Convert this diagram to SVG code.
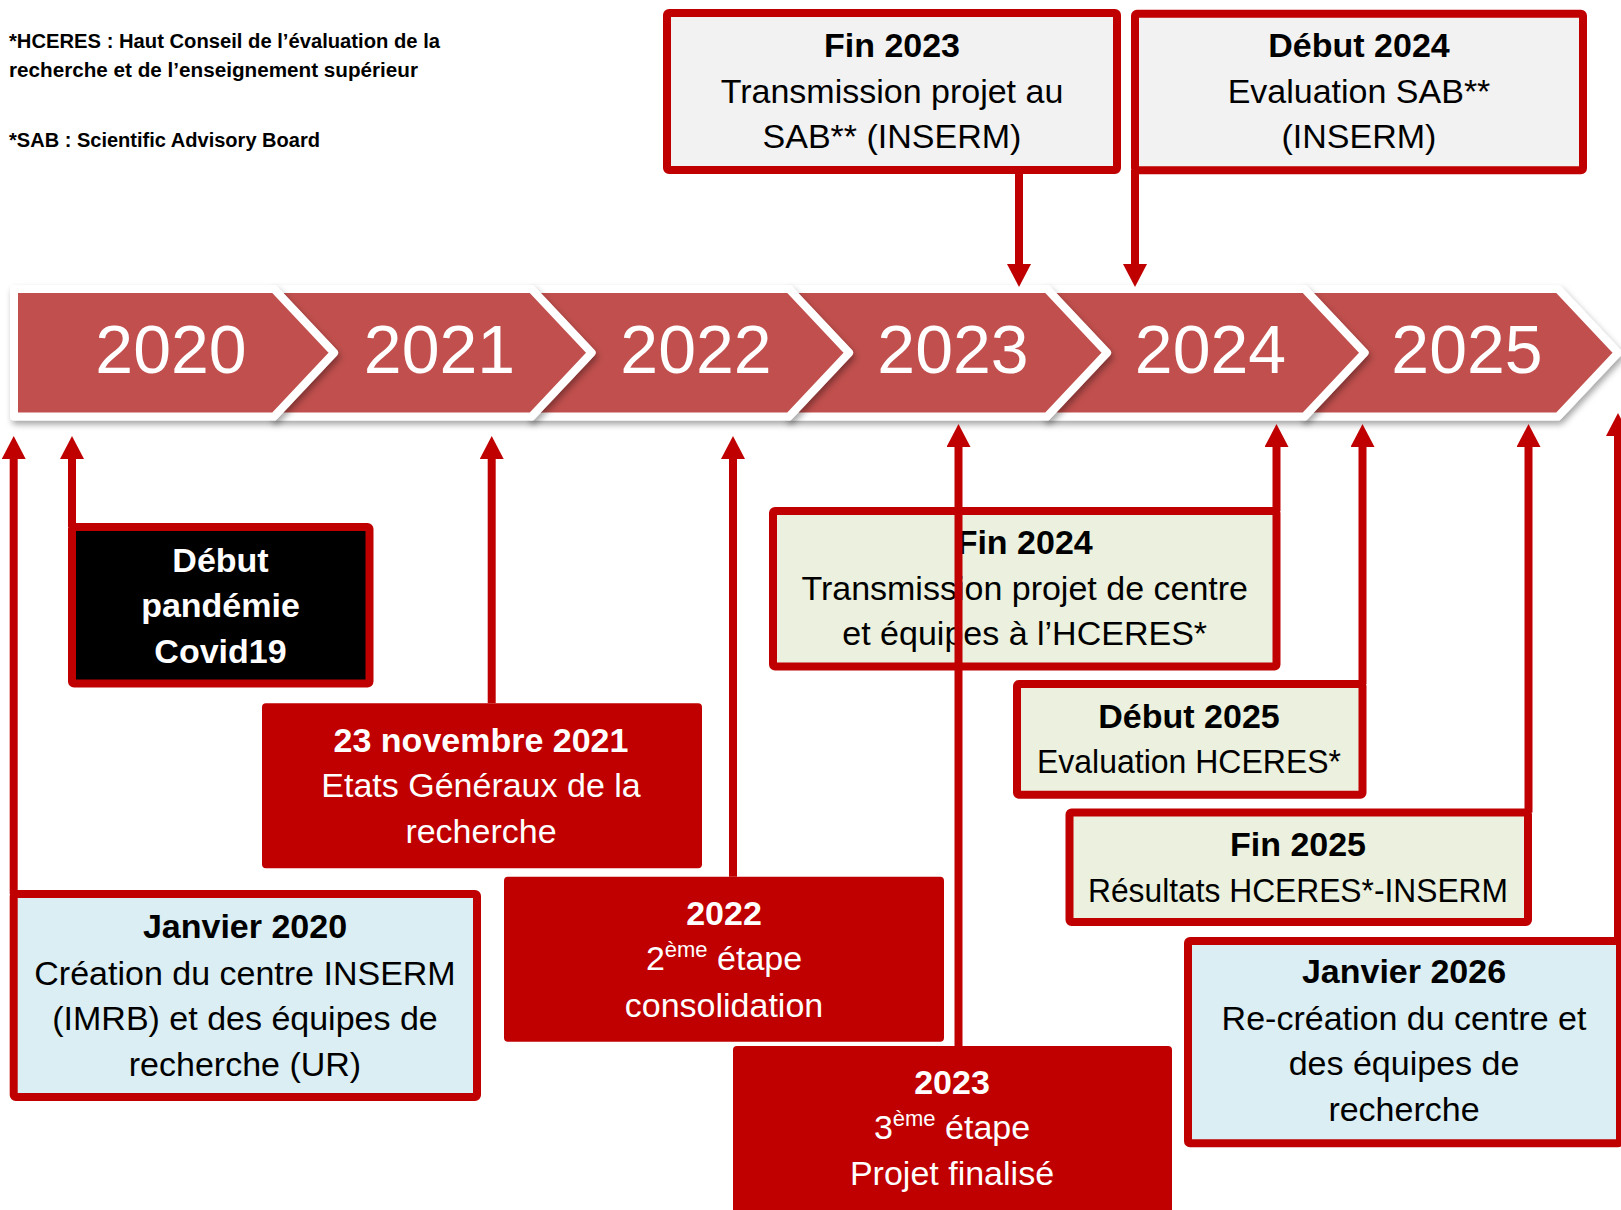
<svg xmlns="http://www.w3.org/2000/svg" width="1621" height="1210" viewBox="0 0 1621 1210">
<style>
.box{stroke:#C00000;stroke-width:8;stroke-linejoin:round}
.t{font-family:"Liberation Sans",Arial,sans-serif;font-size:34px;text-anchor:middle;fill:#000}
.b{font-weight:bold}
.w{fill:#fff}
.yr{font-family:"Liberation Sans",Arial,sans-serif;font-size:68px;text-anchor:middle;fill:#fff}
.fn{font-family:"Liberation Sans",Arial,sans-serif;font-size:20px;font-weight:bold;fill:#000}
.seg{fill:#C0504D;stroke:#fff;stroke-width:8;stroke-linejoin:round;filter:url(#sh)}
.conn line{stroke:#C00000;stroke-width:8}
.sup{font-size:22px}
</style>
<defs>
<filter id="sh" x="-5%" y="-20%" width="115%" height="150%">
<feDropShadow dx="2" dy="4" stdDeviation="3" flood-color="#000" flood-opacity="0.35"/>
</filter>
<marker id="ah" markerUnits="userSpaceOnUse" markerWidth="24" markerHeight="24" refX="1" refY="12" orient="auto" viewBox="0 0 24 24">
<path d="M0,0 L23,12 L0,24 Z" fill="#C00000"/>
</marker>
</defs>
<rect width="1621" height="1210" fill="#fff"/>

<g id="footnotes">
<text class="fn" x="9" y="48" textLength="431" lengthAdjust="spacingAndGlyphs">*HCERES : Haut Conseil de l’évaluation de la</text>
<text class="fn" x="9" y="77" textLength="409" lengthAdjust="spacingAndGlyphs">recherche et de l’enseignement supérieur</text>
<text class="fn" x="9" y="146.5" textLength="311" lengthAdjust="spacingAndGlyphs">*SAB : Scientific Advisory Board</text>
</g>

<g id="timeline">
<path class="seg" d="M1304.5,289 L1558,289 L1618,352.75 L1558,416.5 L1304.5,416.5 L1364.5,352.75 Z"/>
<path class="seg" d="M1047,289 L1304.5,289 L1364.5,352.75 L1304.5,416.5 L1047,416.5 L1107,352.75 Z"/>
<path class="seg" d="M789,289 L1047,289 L1107,352.75 L1047,416.5 L789,416.5 L849,352.75 Z"/>
<path class="seg" d="M531.5,289 L789,289 L849,352.75 L789,416.5 L531.5,416.5 L591.5,352.75 Z"/>
<path class="seg" d="M274,289 L531.5,289 L591.5,352.75 L531.5,416.5 L274,416.5 L334,352.75 Z"/>
<path class="seg" d="M14,289 L274,289 L334,352.75 L274,416.5 L14,416.5 Z"/>
<text class="yr" x="171" y="373">2020</text>
<text class="yr" x="439.5" y="373">2021</text>
<text class="yr" x="696" y="373">2022</text>
<text class="yr" x="953" y="373">2023</text>
<text class="yr" x="1210.5" y="373">2024</text>
<text class="yr" x="1467" y="373">2025</text>
</g>

<g id="fin2023">
<rect class="box" x="667" y="13" width="450" height="157" rx="2" fill="#F2F2F2"/>
<text class="t b" x="892" y="57.3">Fin 2023</text>
<text class="t" x="892" y="103">Transmission projet au</text>
<text class="t" x="892" y="148">SAB** (INSERM)</text>
</g>

<g id="debut2024">
<rect class="box" x="1135" y="13.7" width="448" height="156.5" rx="2" fill="#F2F2F2"/>
<text class="t b" x="1359" y="57.3">Début 2024</text>
<text class="t" x="1359" y="103">Evaluation SAB**</text>
<text class="t" x="1359" y="148">(INSERM)</text>
</g>

<g id="covid">
<rect class="box" x="72" y="527" width="297.5" height="156.5" rx="2" fill="#000"/>
<text class="t b w" x="220.5" y="571.7">Début</text>
<text class="t b w" x="220.5" y="616.7">pandémie</text>
<text class="t b w" x="220.5" y="662.7">Covid19</text>
</g>

<g id="nov2021">
<rect x="262" y="703.3" width="440" height="165" rx="4" fill="#C00000"/>
<text class="t b w" x="481" y="751.7">23 novembre 2021</text>
<text class="t w" x="481" y="797.3">Etats Généraux de la</text>
<text class="t w" x="481" y="842.7">recherche</text>
</g>

<g id="etape2022">
<rect x="504" y="876.7" width="440" height="165" rx="4" fill="#C00000"/>
<text class="t b w" x="724" y="925">2022</text>
<text class="t w" x="724" y="970">2<tspan class="sup" dy="-13">ème</tspan><tspan dy="13"> étape</tspan></text>
<text class="t w" x="724" y="1016.7">consolidation</text>
</g>

<g id="etape2023">
<rect x="733" y="1046" width="439" height="200" rx="4" fill="#C00000"/>
<text class="t b w" x="952" y="1094">2023</text>
<text class="t w" x="952" y="1139.3">3<tspan class="sup" dy="-13">ème</tspan><tspan dy="13"> étape</tspan></text>
<text class="t w" x="952" y="1185">Projet finalisé</text>
</g>

<g id="janvier2020">
<rect class="box" x="13.7" y="894" width="463.3" height="203" rx="2" fill="#DAEEF3"/>
<text class="t b" x="245" y="938.3">Janvier 2020</text>
<text class="t" x="245" y="985">Création du centre INSERM</text>
<text class="t" x="245" y="1030">(IMRB) et des équipes de</text>
<text class="t" x="245" y="1075.7">recherche (UR)</text>
</g>

<g id="fin2024">
<rect class="box" x="773" y="511" width="503.5" height="155.5" rx="2" fill="#EBF1DE"/>
<text class="t b" x="1024.7" y="554">Fin 2024</text>
<text class="t" x="1024.7" y="600">Transmission projet de centre</text>
<text class="t" x="1024.7" y="645.3">et équipes à l’HCERES*</text>
</g>

<g id="debut2025">
<rect class="box" x="1017" y="684" width="345.5" height="110.7" rx="2" fill="#EBF1DE"/>
<text class="t b" x="1189" y="728.3">Début 2025</text>
<text class="t" x="1189" y="773.3" textLength="304" lengthAdjust="spacingAndGlyphs">Evaluation HCERES*</text>
</g>

<g id="fin2025">
<rect class="box" x="1069.5" y="812.5" width="458.5" height="109.5" rx="2" fill="#EBF1DE"/>
<text class="t b" x="1298" y="856">Fin 2025</text>
<text class="t" x="1298" y="901.7" textLength="420" lengthAdjust="spacingAndGlyphs">Résultats HCERES*-INSERM</text>
</g>

<g id="janvier2026">
<rect class="box" x="1188" y="941" width="432" height="202.3" rx="2" fill="#DAEEF3"/>
<text class="t b" x="1404" y="983.3">Janvier 2026</text>
<text class="t" x="1404" y="1030">Re-création du centre et</text>
<text class="t" x="1404" y="1075">des équipes de</text>
<text class="t" x="1404" y="1120.7">recherche</text>
</g>

<g id="connectors" class="conn">
<line x1="1019" y1="170" x2="1019" y2="265" marker-end="url(#ah)"/>
<line x1="1135" y1="170" x2="1135" y2="265" marker-end="url(#ah)"/>
<line x1="13.7" y1="894" x2="13.7" y2="458" marker-end="url(#ah)"/>
<line x1="72" y1="527" x2="72" y2="458" marker-end="url(#ah)"/>
<line x1="491.7" y1="703.3" x2="491.7" y2="458" marker-end="url(#ah)"/>
<line x1="733" y1="876.7" x2="733" y2="458" marker-end="url(#ah)"/>
<line x1="958.5" y1="1046" x2="958.5" y2="446" marker-end="url(#ah)"/>
<line x1="1276.5" y1="511" x2="1276.5" y2="446" marker-end="url(#ah)"/>
<line x1="1362.5" y1="684" x2="1362.5" y2="446" marker-end="url(#ah)"/>
<line x1="1528.5" y1="812.5" x2="1528.5" y2="446" marker-end="url(#ah)"/>
<line x1="1618" y1="941" x2="1618" y2="435" marker-end="url(#ah)"/>
</g>
</svg>
